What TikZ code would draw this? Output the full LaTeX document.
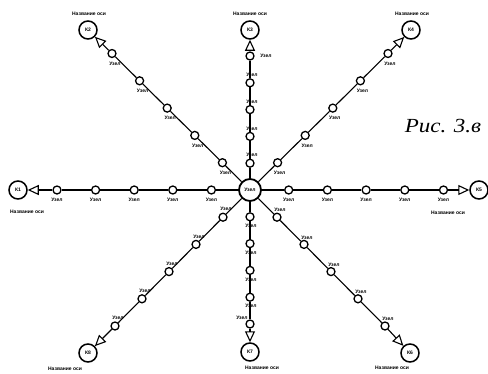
\documentclass[tikz,border=0pt]{standalone}
\usepackage{fontspec}
\setmainfont{Liberation Sans}
\newfontfamily\figfont{Liberation Serif}
\usetikzlibrary{calc, arrows.meta}
\tikzset{
  uzel/.style={circle, draw, line width=1.3pt, fill=white, inner sep=0pt, minimum size=8pt}
}
\tikzset{
  konec/.style={circle, draw, line width=1.5pt, fill=white, inner sep=0pt, minimum size=18pt, font=\fontsize{5}{6}\selectfont\bfseries}
}
\tikzset{
  tinytext/.style={font=\fontsize{5}{6}\selectfont\bfseries, inner sep=0pt},
  os/.style={line width=1.1pt}
}

\begin{document}
\begin{tikzpicture}[x=1pt, y=-1pt]
  \useasboundingbox (0,0) rectangle (488,373);

  \node[konec, minimum size=22pt, line width=1.8pt] (c) at (250,190) {Узел};

  % axis: step, end point, offsets of the node labels and of the axis name
  \foreach \i/\dx/\dy/\ex/\ey/\lx/\ly/\mx/\my/\kx/\ky in {
      1/-38.6/0/-232/0/0/10/0/10/9/22,
      2/-27.6/-27.3/-162/-160/3/10/3/10/1/-16,
      3/0/-26.8/0/-160/2/-8/16/0/0/-16,
      4/27.6/-27.3/161/-160/2/10/2/10/1/-16,
      5/38.7/0/229/0/0/10/0/10/-31/23,
      6/27/27.2/160/163/3/-7/3/-7/-18/15,
      7/0/26.8/0/162/1/9/-8/-6/12/16,
      8/-27/27.2/-162/163/3/-8/3/-8/-23/16} {
    \node[konec] (k\i) at ($(c)+(\ex,\ey)$) {К\i};
    \node[tinytext] at ($(k\i)+(\kx,\ky)$) {Название оси};
    \foreach \k in {1,...,5}
      \node[uzel] (n\i-\k) at ($(c)+\k*(\dx,\dy)$) {};
    \foreach \k in {1,...,4}
      \node[tinytext] at ($(n\i-\k)+(\lx,\ly)$) {Узел};
    \node[tinytext] at ($(n\i-5)+(\mx,\my)$) {Узел};

    \draw[os] (c) -- (n\i-1) -- (n\i-2) -- (n\i-3) -- (n\i-4) -- (n\i-5);
    \draw[os, -{Triangle[open, length=11pt, width=10pt]}] (n\i-5) -- (k\i);
  }

  \node[font=\figfont\itshape\fontsize{20}{24}\selectfont, xscale=1.15] (fig) at (443,126) {Рис. 3.в};
\end{tikzpicture}
\end{document}
